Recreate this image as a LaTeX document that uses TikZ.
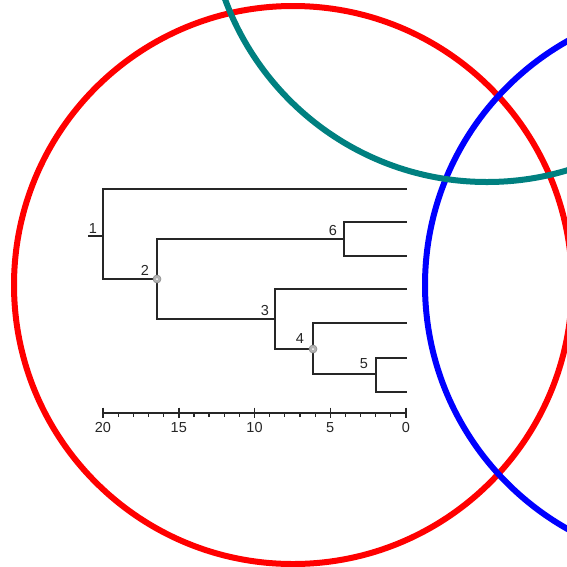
\documentclass[tikz,border=0pt]{standalone}
\usepackage{fontspec}
\setmainfont{Liberation Sans}
\usetikzlibrary{patterns,calc}
\begin{document}
\begin{tikzpicture}[x=1pt,y=-1pt,
  ring/.style={line width=6pt},
  branch/.style={draw=black!85, line width=2pt},
  lbl/.style={font=\fontsize{14.5}{14.5}\selectfont, inner sep=0pt, text=black!85},
  junction/.style={circle, minimum size=8pt, inner sep=0pt, fill=black!30,
    draw=black!45, line width=0.6pt}]
\useasboundingbox (0,0) rectangle (567,566);

% internal nodes of the tree
\coordinate (n1) at (103,236);
\coordinate (s1) at (88,236);
\coordinate (n2) at (157,279);
\coordinate (n6) at (344,239);
\coordinate (n3) at (275,319);
\coordinate (n4) at (313,349);
\coordinate (n5) at (376,374);
% leaves
\coordinate (l1)  at (407,189);
\coordinate (l6a) at (407,222);
\coordinate (l6b) at (407,256);
\coordinate (l3)  at (407,289);
\coordinate (l4)  at (407,323);
\coordinate (l5a) at (407,358);
\coordinate (l5b) at (407,392);

% branches
\draw[branch] (s1) -- (n1);
\draw[branch] (n1) |- (l1);
\draw[branch] (n1) |- (n2);
\draw[branch] (n2) |- (n6);
\draw[branch] (n2) |- (n3);
\draw[branch] (n6) |- (l6a);
\draw[branch] (n6) |- (l6b);
\draw[branch] (n3) |- (l3);
\draw[branch] (n3) |- (n4);
\draw[branch] (n4) |- (l4);
\draw[branch] (n4) |- (n5);
\draw[branch] (n5) |- (l5a);
\draw[branch] (n5) |- (l5b);

\node[junction] (m2) at (n2) {};
\node[junction] (m4) at (n4) {};
\fill[white] (m2) circle[radius=1pt] (m4) circle[radius=1pt];

% node numbers
\node[lbl] (t1) at (93,228.5) {1};
\node[lbl] (t2) at (145,270) {2};
\node[lbl] (t6) at (333,230) {6};
\node[lbl] (t3) at (265,310.5) {3};
\node[lbl] (t4) at (300,339) {4};
\node[lbl] (t5) at (364,364) {5};

% scale bar
\coordinate (a20) at (103,413);
\coordinate (a0) at (406,413);
\draw[branch, line width=1.6pt] (a20) -- (a0);
\foreach \v in {0,...,20} {
  \draw[draw=black!85, line width=1.2pt] ($(a0)!\v/20!(a20)$) -- ++(0,3.5);
}
\foreach \v in {0,5,...,20} {
  \draw[draw=black!85, line width=1.5pt] ($(a0)!\v/20!(a20)+(0,-5.5)$) -- ++(0,10);
  \node[lbl] (ax\v) at ($(a0)!\v/20!(a20)+(0,14.5)$) {\v};
}

% circles
\begin{scope}
\clip (0,0) rectangle (567,566);
\draw[ring, red] (293,285) circle[radius=279pt];
\draw[ring, blue] (705,285) circle[radius=280pt];
\draw[ring, color={rgb,255:red,0;green,128;blue,128}] (487,-97) circle[radius=279pt];
\end{scope}
\end{tikzpicture}
\end{document}
